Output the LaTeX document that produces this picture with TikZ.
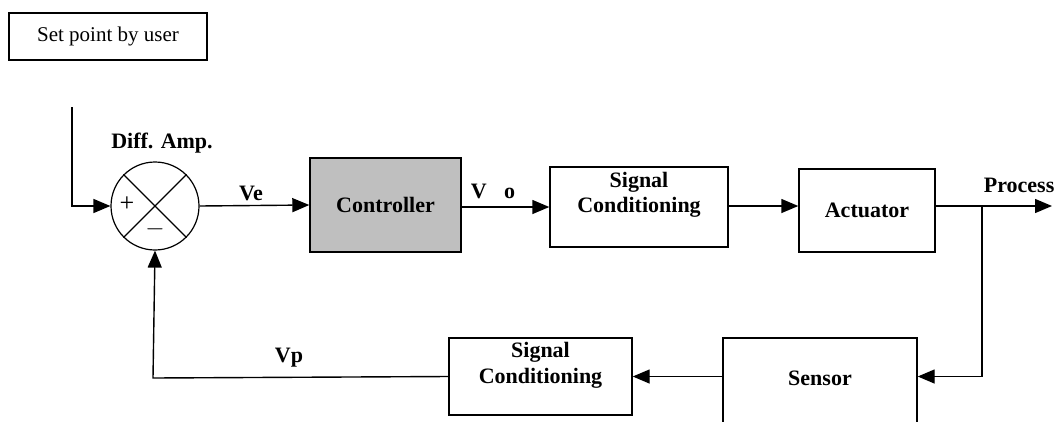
\documentclass[tikz,border=0pt]{standalone}
\usepackage{fontspec}
\setmainfont{Liberation Serif}
\usetikzlibrary{arrows.meta,calc}
\begin{document}
\begin{tikzpicture}[x=1pt,y=-1pt,
  line width=1.4pt,
  arr/.style={-{Triangle[length=17pt,width=14pt]}},
  blk/.style={draw,line width=1.4pt,inner sep=0pt,font=\fontsize{22}{25}\selectfont\bfseries,align=center},
  lbl/.style={inner sep=0pt,font=\fontsize{22}{25}\selectfont\bfseries},
  sgn/.style={inner sep=0pt,font=\fontsize{26}{28}\selectfont}]
\useasboundingbox (0,0) rectangle (1055,421);
\clip (0,0) rectangle (1055,421);
% set point box
\node[draw,line width=1.4pt,minimum width=198pt,minimum height=47pt,inner sep=0pt,
  font=\fontsize{21}{24}\selectfont] (sp) at (108,36.5) {Set point by user};
% summing junction
\node[draw,circle,minimum size=88pt,inner sep=0pt,line width=1.2pt] (sum) at (155,206) {};
\draw[line width=1.2pt] (sum.45) -- (sum.225) (sum.135) -- (sum.-45);
\node[sgn] (plus) at (127,204) {+};
\node[sgn] (minus) at (155,229) {$-$};
\node[lbl] (diff) at (162,143) {Diff. Amp.};
% blocks
\node[blk,fill=black!25,minimum width=151pt,minimum height=94pt] (ctrl) at (385.5,205) {Controller};
\node[blk,minimum width=178pt,minimum height=80pt] (sc1) at (639,207) {};
\node[lbl] (sc1a) at (639,182) {Signal};
\node[lbl] (sc1b) at (639,207) {Conditioning};
\node[blk,minimum width=136pt,minimum height=83pt] (act) at (867,210.5) {Actuator};
\node[blk,minimum width=194pt,minimum height=120pt] (sens) at (820,398) {};
\node[lbl] (senst) at (820,378) {Sensor};
\node[blk,minimum width=183pt,minimum height=77pt] (sc2) at (540.5,376.5) {};
\node[lbl] (sc2a) at (540.5,352) {Signal};
\node[lbl] (sc2b) at (540.5,378) {Conditioning};
% labels
\node[lbl] (ve) at (251,193) {Ve};
\node[lbl] (vo) at (493,191) {V\hspace{0.8em}o};
\node[lbl] (vp) at (289,358) {Vp};
\node[lbl,anchor=east] (proc) at (1055,185) {Process};
% coordinates
\coordinate (top) at (72,107);
\coordinate (branch) at (982,206);
\coordinate (out) at (1052,206);
\coordinate (fb) at (153,378);
% connectors
\draw[arr] (top) |- (sum.west);
\draw[arr] (sum.east) -- (ctrl.west);
\draw[arr] (ctrl.east |- sc1.west) -- (sc1.west);
\draw[arr] (sc1.east |- branch) -- (act.west |- branch);
\draw[arr] (act.east |- branch) -- (out);
\draw[arr] (branch) |- (sens.east |- sc2.east);
\draw[arr] (sens.west |- sc2.east) -- (sc2.east);
\draw[arr] (sc2.west) -- (fb) -- (sum.south);
\end{tikzpicture}
\end{document}
